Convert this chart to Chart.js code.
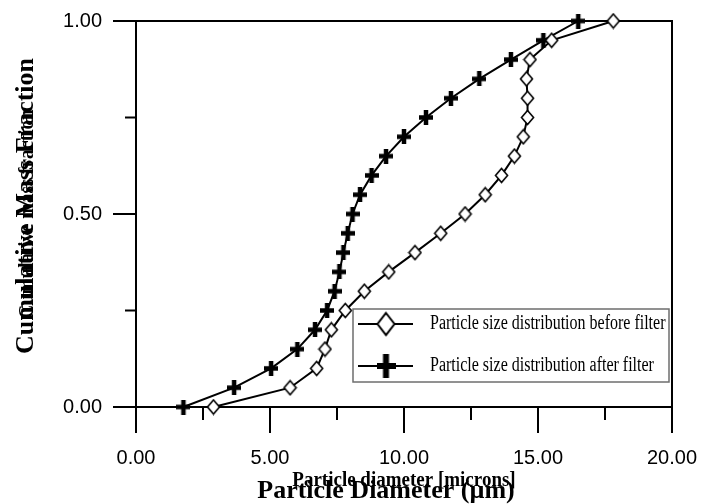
<!DOCTYPE html>
<html>
<head>
<meta charset="utf-8">
<script src="https://cdn.jsdelivr.net/npm/chart.js@4.4.1/dist/chart.umd.min.js"></script>
<style>
  html, body { margin: 0; padding: 0; background: #fff; }
  #wrap { width: 714px; height: 504px; }
</style>
</head>
<body>
<div id="wrap"><canvas id="psdChart" width="714" height="504"></canvas></div>
<script>
// --- data ---
const diaBefore  = [2.89, 5.75, 6.74, 7.05, 7.29, 7.81, 8.52, 9.43, 10.41, 11.37, 12.28, 13.03, 13.64, 14.12, 14.45, 14.61, 14.61, 14.57, 14.70, 15.51, 17.81];
const fracBefore = [0.00, 0.05, 0.10, 0.15, 0.20, 0.25, 0.30, 0.35, 0.40, 0.45, 0.50, 0.55, 0.60, 0.65, 0.70, 0.75, 0.80, 0.85, 0.90, 0.95, 1.00];
const diaAfter   = [1.77, 3.66, 5.04, 6.02, 6.68, 7.13, 7.41, 7.59, 7.74, 7.90, 8.08, 8.36, 8.79, 9.33, 10.00, 10.82, 11.75, 12.81, 13.99, 15.20, 16.50];
const fracAfter  = [0.00, 0.05, 0.10, 0.15, 0.20, 0.25, 0.30, 0.35, 0.40, 0.45, 0.50, 0.55, 0.60, 0.65, 0.70, 0.75, 0.80, 0.85, 0.90, 0.95, 1.00];

const xTicks = [0, 5, 10, 15, 20];
const yTicks = [0, 0.5, 1];
const seriesNames = ['Particle size distribution before filter', 'Particle size distribution after filter'];
const xTitleBig = 'Particle Diameter (\u00b5m)';
const xTitleSmall = 'Particle diameter [microns]';
const yTitleBig = 'Cumulative Mass Fraction';
const yTitleSmall = 'Cumulative mass fraction';

const SANS = "'Liberation Sans', Arial, sans-serif";
const SERIF = "'Liberation Serif', 'Times New Roman', serif";

// marker images (open diamond, bold plus)
function diamondImg(w, h, lw) {
    const c = document.createElement('canvas');
    c.width = w + lw * 2; c.height = h + lw * 2;
    const g = c.getContext('2d');
    const cx = c.width / 2, cy = c.height / 2;
    g.beginPath();
    g.moveTo(cx, cy - h / 2); g.lineTo(cx + w / 2, cy);
    g.lineTo(cx, cy + h / 2); g.lineTo(cx - w / 2, cy);
    g.closePath();
    g.fillStyle = '#fff'; g.fill();
    g.lineWidth = lw; g.strokeStyle = '#000'; g.stroke();
    return c;
}
function plusImg(w, h, t) {
    const c = document.createElement('canvas');
    c.width = w; c.height = h;
    const g = c.getContext('2d');
    g.fillStyle = '#000';
    g.fillRect(0, (h - t) / 2, w, t);
    g.fillRect((w - t) / 2, 0, t, h);
    return c;
}
const diaMark = diamondImg(12, 14, 1.6);
const plusMark = plusImg(14, 15, 4.5);
const diaLegend = diamondImg(17, 22, 2);
const plusLegend = plusImg(19, 24, 6);

function toXY(xs, ys) {
    return xs.map((x, i) => ({ x: x, y: ys[i] }));
}

// frame, tick marks, titles and legend
const decor = {
    id: 'decor',
    beforeDatasetsDraw(chart) {
        const ctx = chart.ctx;
        const a = chart.chartArea;
        const sx = chart.scales.x, sy = chart.scales.y;
        ctx.save();
        ctx.strokeStyle = '#000';
        ctx.lineWidth = 2;
        ctx.strokeRect(a.left, a.top, a.right - a.left, a.bottom - a.top);
        ctx.beginPath();
        for (let v = 0; v <= 20; v += 2.5) {
            const px = sx.getPixelForValue(v);
            const len = xTicks.includes(v) ? 26 : 13;
            ctx.moveTo(px, a.bottom); ctx.lineTo(px, a.bottom + len);
        }
        for (let v = 0; v <= 1; v += 0.25) {
            const py = sy.getPixelForValue(v);
            const len = yTicks.includes(v) ? 23 : 11;
            ctx.moveTo(a.left, py); ctx.lineTo(a.left - len, py);
        }
        ctx.stroke();
        ctx.restore();
    },
    afterDraw(chart) {
        const ctx = chart.ctx;
        const a = chart.chartArea;
        ctx.save();
        ctx.fillStyle = '#000';
        ctx.textAlign = 'center';
        ctx.textBaseline = 'alphabetic';

        // x titles (two overlapping labels, as in the original)
        ctx.font = 'bold 19px ' + SERIF;
        ctx.save(); ctx.translate((a.left + a.right) / 2, 486); ctx.scale(1, 1.15);
        ctx.fillText(xTitleSmall, 0, 0); ctx.restore();
        ctx.font = 'bold 26px ' + SERIF;
        ctx.fillText(xTitleBig, 386, 498);

        // y titles
        ctx.save(); ctx.translate(33, 214); ctx.rotate(-Math.PI / 2); ctx.scale(1, 1.15);
        ctx.font = 'bold 19px ' + SERIF;
        ctx.fillText(yTitleSmall, 0, 0); ctx.restore();
        ctx.save(); ctx.translate(33, 206); ctx.rotate(-Math.PI / 2);
        ctx.font = 'bold 26px ' + SERIF;
        ctx.fillText(yTitleBig, 0, 0); ctx.restore();

        // legend box
        const lx = 353, ly = 309, lw = 316, lh = 73;
        ctx.fillStyle = '#fff';
        ctx.fillRect(lx, ly, lw, lh);
        ctx.strokeStyle = '#6e6e6e';
        ctx.lineWidth = 1.5;
        ctx.strokeRect(lx, ly, lw, lh);
        const rows = [324, 366];
        const marks = [diaLegend, plusLegend];
        ctx.strokeStyle = '#000';
        ctx.lineWidth = 2;
        ctx.textAlign = 'left';
        ctx.textBaseline = 'middle';
        ctx.font = '16px ' + SERIF;
        rows.forEach((ry, i) => {
            ctx.beginPath(); ctx.moveTo(358, ry); ctx.lineTo(413, ry); ctx.stroke();
            const m = marks[i];
            ctx.drawImage(m, 386 - m.width / 2, ry - m.height / 2);
            ctx.fillStyle = '#000';
            ctx.save(); ctx.translate(430, ry); ctx.scale(1, 1.3);
            ctx.fillText(seriesNames[i], 0, 0); ctx.restore();
        });
        ctx.restore();
    }
};

new Chart(document.getElementById('psdChart'), {
    type: 'scatter',
    data: {
        datasets: [{
            label: seriesNames[0],
            data: toXY(diaBefore, fracBefore),
            showLine: true,
            borderColor: '#000',
            borderWidth: 2,
            pointStyle: diaMark,
            clip: false
        }, {
            label: seriesNames[1],
            data: toXY(diaAfter, fracAfter),
            showLine: true,
            borderColor: '#000',
            borderWidth: 2,
            pointStyle: plusMark,
            clip: false
        }]
    },
    options: {
        responsive: false,
        animation: false,
        layout: { padding: { top: 21, right: 42, left: 0, bottom: 0 } },
        plugins: { legend: { display: false }, tooltip: { enabled: false } },
        scales: {
            x: {
                type: 'linear', min: 0, max: 20,
                grid: { display: false, drawTicks: false },
                border: { display: false },
                afterFit: s => { s.height = 97; s.paddingLeft = 0; s.paddingRight = 0; },
                afterBuildTicks: s => { s.ticks = xTicks.map(v => ({ value: v })); },
                ticks: {
                    padding: 39,
                    color: '#000',
                    font: { family: SANS, size: 20 },
                    callback: v => Number(v).toFixed(2)
                }
            },
            y: {
                type: 'linear', min: 0, max: 1,
                grid: { display: false, drawTicks: false },
                border: { display: false },
                afterFit: s => { s.width = 136; s.paddingTop = 0; s.paddingBottom = 0; },
                afterBuildTicks: s => { s.ticks = yTicks.map(v => ({ value: v })); },
                ticks: {
                    padding: 34,
                    color: '#000',
                    font: { family: SANS, size: 20 },
                    callback: v => Number(v).toFixed(2)
                }
            }
        }
    },
    plugins: [decor]
});
</script>
</body>
</html>
